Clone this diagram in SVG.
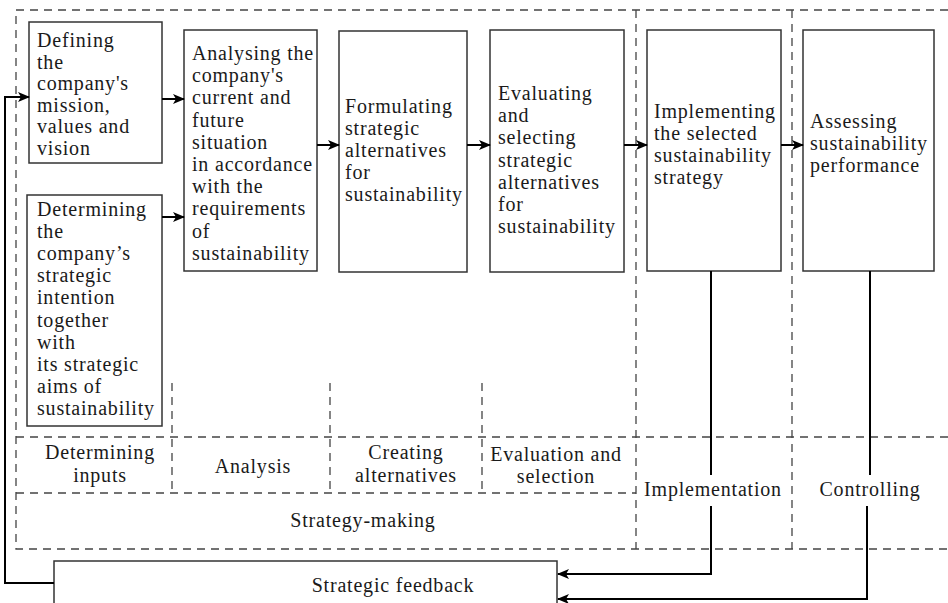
<svg xmlns="http://www.w3.org/2000/svg" width="948" height="603" viewBox="0 0 948 603">
  <style>
    .box { fill: #fff; stroke: #333; stroke-width: 1.5; }
    .dash { fill: none; stroke: #444; stroke-width: 1.3; stroke-dasharray: 8 6; }
    .flow { fill: none; stroke: #000; stroke-width: 2; }
    text { font-family: 'Liberation Serif', 'DejaVu Serif', serif; font-size: 20px; letter-spacing: 0.8px; fill: #1a1a1a; }
    .c { text-anchor: middle; }
  </style>
  <defs>
    <marker id="arrow" viewBox="0 0 12 10" refX="11" refY="5" markerWidth="12" markerHeight="10" markerUnits="userSpaceOnUse" orient="auto">
      <path d="M0,0 L12,5 L0,10 L3,5 Z" fill="#000"/>
    </marker>
  </defs>

  <!-- phase frames -->
  <g id="frames">
    <path class="dash" d="M948,10 H16 V549 H948"/>
    <path class="dash" d="M16,437 H948"/>
    <path class="dash" d="M16,493 H636"/>
    <path class="dash" d="M636,10 V549"/>
    <path class="dash" d="M792,10 V549"/>
    <path class="dash" d="M172,383 V493"/>
    <path class="dash" d="M330,383 V493"/>
    <path class="dash" d="M482,383 V493"/>
  </g>

  <!-- phase labels -->
  <g id="labels">
    <text class="c" x="100" y="459">Determining</text>
    <text class="c" x="100" y="482">inputs</text>
    <text class="c" x="253" y="473">Analysis</text>
    <text class="c" x="406" y="459">Creating</text>
    <text class="c" x="406" y="482">alternatives</text>
    <text class="c" x="556" y="461">Evaluation and</text>
    <text class="c" x="556" y="483">selection</text>
    <text class="c" x="713" y="496">Implementation</text>
    <text class="c" x="870" y="496">Controlling</text>
    <text class="c" x="363" y="527">Strategy-making</text>
  </g>

  <g id="n-mission">
    <rect class="box" x="29" y="22" width="133" height="141"/>
    <text x="37" y="47">Defining<tspan x="37" dy="21.6">the</tspan><tspan x="37" dy="21.6">company's</tspan><tspan x="37" dy="21.6">mission,</tspan><tspan x="37" dy="21.6">values and</tspan><tspan x="37" dy="21.6">vision</tspan></text>
  </g>

  <g id="n-intention">
    <rect class="box" x="27" y="195" width="135" height="231"/>
    <text x="37" y="216">Determining<tspan x="37" dy="22.1">the</tspan><tspan x="37" dy="22.1">company’s</tspan><tspan x="37" dy="22.1">strategic</tspan><tspan x="37" dy="22.1">intention</tspan><tspan x="37" dy="22.1">together</tspan><tspan x="37" dy="22.1">with</tspan><tspan x="37" dy="22.1">its strategic</tspan><tspan x="37" dy="22.1">aims of</tspan><tspan x="37" dy="22.1">sustainability</tspan></text>
  </g>

  <g id="n-analysis">
    <rect class="box" x="184" y="30" width="133" height="241"/>
    <text x="192" y="60">Analysing the<tspan x="192" dy="22.2">company's</tspan><tspan x="192" dy="22.2">current and</tspan><tspan x="192" dy="22.2">future</tspan><tspan x="192" dy="22.2">situation</tspan><tspan x="192" dy="22.2">in accordance</tspan><tspan x="192" dy="22.2">with the</tspan><tspan x="192" dy="22.2">requirements</tspan><tspan x="192" dy="22.2">of</tspan><tspan x="192" dy="22.2">sustainability</tspan></text>
  </g>

  <g id="n-formulating">
    <rect class="box" x="339" y="31" width="128" height="241"/>
    <text x="345" y="113">Formulating<tspan x="345" dy="21.9">strategic</tspan><tspan x="345" dy="21.9">alternatives</tspan><tspan x="345" dy="21.9">for</tspan><tspan x="345" dy="21.9">sustainability</tspan></text>
  </g>

  <g id="n-evaluating">
    <rect class="box" x="490" y="30" width="134" height="242"/>
    <text x="498" y="100">Evaluating<tspan x="498" dy="22.2">and</tspan><tspan x="498" dy="22.2">selecting</tspan><tspan x="498" dy="22.2">strategic</tspan><tspan x="498" dy="22.2">alternatives</tspan><tspan x="498" dy="22.2">for</tspan><tspan x="498" dy="22.2">sustainability</tspan></text>
  </g>

  <g id="n-implementing">
    <rect class="box" x="647" y="30" width="134" height="241"/>
    <text x="654" y="118">Implementing<tspan x="654" dy="21.9">the selected</tspan><tspan x="654" dy="21.9">sustainability</tspan><tspan x="654" dy="21.9">strategy</tspan></text>
  </g>

  <g id="n-assessing">
    <rect class="box" x="803" y="30" width="131" height="241"/>
    <text x="810" y="128">Assessing<tspan x="810" dy="21.9">sustainability</tspan><tspan x="810" dy="21.9">performance</tspan></text>
  </g>

  <g id="n-feedback">
    <rect class="box" x="54" y="561" width="503" height="60"/>
    <text class="c" x="393" y="592">Strategic feedback</text>
  </g>

  <g id="connectors">
    <path class="flow" d="M162,99 H184" marker-end="url(#arrow)"/>
    <path class="flow" d="M162,217 H184" marker-end="url(#arrow)"/>
    <path class="flow" d="M317,145 H339" marker-end="url(#arrow)"/>
    <path class="flow" d="M467,145 H490" marker-end="url(#arrow)"/>
    <path class="flow" d="M624,145 H647" marker-end="url(#arrow)"/>
    <path class="flow" d="M781,145 H803" marker-end="url(#arrow)"/>
    <path class="flow" d="M54,583 H5 V97 H29" marker-end="url(#arrow)"/>
    <path class="flow" d="M711,271 V475"/>
    <path class="flow" d="M711,506 V574 H558" marker-end="url(#arrow)"/>
    <path class="flow" d="M870,271 V475"/>
    <path class="flow" d="M867,506 V599 H558" marker-end="url(#arrow)"/>
  </g>
</svg>
